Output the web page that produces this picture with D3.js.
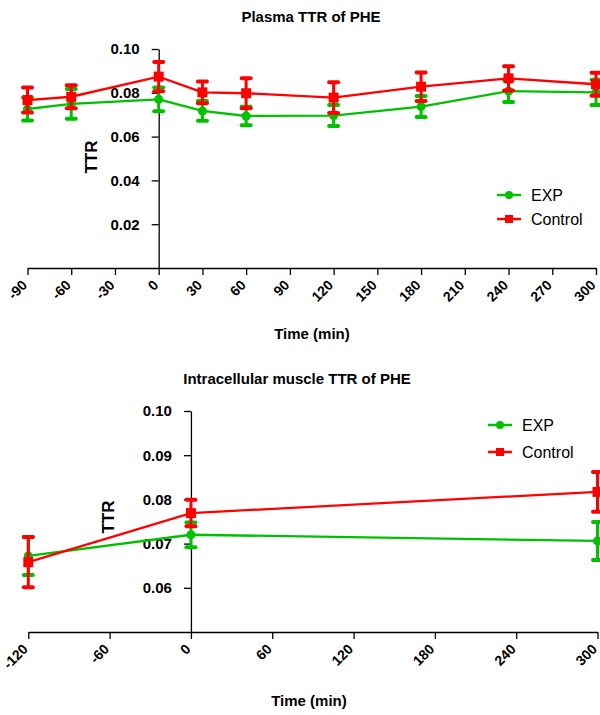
<!DOCTYPE html>
<html>
<head>
<meta charset="utf-8">
<script src="https://cdn.jsdelivr.net/npm/d3@7"></script>
<style>
  body { margin: 0; background: #fff; }
  svg { display: block; font-family: "Liberation Sans", Arial, sans-serif; }
</style>
</head>
<body>
<div id="chart"></div>
<script>
// top panel: plasma
const plasmaTimes = [-90, -60, 0, 30, 60, 120, 180, 240, 300];
const plasmaExp = [0.0726, 0.0749, 0.0770, 0.0717, 0.0694, 0.0696, 0.0737, 0.0808, 0.0802];
const plasmaExpErr = [0.0053, 0.0068, 0.0054, 0.0045, 0.0042, 0.0048, 0.0048, 0.0050, 0.0058];
const plasmaCtl = [0.0767, 0.0782, 0.0874, 0.0802, 0.0798, 0.0778, 0.0828, 0.0866, 0.0839];
const plasmaCtlErr = [0.0057, 0.0053, 0.0067, 0.0050, 0.0068, 0.0070, 0.0065, 0.0055, 0.0053];
const plasmaXTicks = [-90, -60, -30, 0, 30, 60, 90, 120, 150, 180, 210, 240, 270, 300];
const plasmaYTicks = [0.02, 0.04, 0.06, 0.08, 0.10];

// bottom panel: intracellular muscle
const muscleTimes = [-120, 0, 300];
const muscleExp = [0.0672, 0.0720, 0.0706];
const muscleExpErr = [0.0043, 0.0028, 0.0043];
const muscleCtl = [0.0658, 0.0769, 0.0817];
const muscleCtlErr = [0.0057, 0.0030, 0.0045];
const muscleXTicks = [-120, -60, 0, 60, 120, 180, 240, 300];
const muscleYTicks = [0.06, 0.07, 0.08, 0.09, 0.10];

const seriesNames = ["EXP", "Control"];

const width = 600, height = 715;
const green = "#00c000", red = "#ff0000";

let svg = d3.select("#chart").append("svg")
    .attr("width", width)
    .attr("height", height);

let drawPanel = function (cfg) {
    let x = d3.scaleLinear().domain(cfg.xDomain).range(cfg.xRange);
    let y = d3.scaleLinear().domain(cfg.yDomain).range(cfg.yRange);
    let g = svg.append("g");

    //title
    g.append("text")
        .attr("x", cfg.titleX).attr("y", cfg.titleY)
        .attr("text-anchor", "middle")
        .attr("font-size", 15).attr("font-weight", "bold")
        .text(cfg.title);

    //x axis along the bottom, plain hyphen for negatives
    let xAxis = g.append("g")
        .attr("transform", `translate(0,${cfg.yRange[0]})`)
        .call(d3.axisBottom(x).tickValues(cfg.xTicks).tickSize(7).tickSizeOuter(0)
            .tickFormat(d => String(d)));
    xAxis.select(".domain").attr("stroke", "#000").attr("stroke-width", 1.3);
    xAxis.selectAll(".tick line").attr("stroke", "#000").attr("stroke-width", 1.3);
    xAxis.selectAll(".tick text")
        .attr("font-size", 14).attr("font-weight", "bold").attr("fill", "#000")
        .attr("font-family", "Liberation Sans, Arial, sans-serif")
        .attr("text-anchor", "end")
        .attr("dy", 0)
        .attr("y", 0)
        .attr("transform", "translate(0,18) rotate(-45)");

    //y axis through x = 0
    let yAxis = g.append("g")
        .attr("transform", `translate(${x(0)},0)`)
        .call(d3.axisLeft(y).tickValues(cfg.yTicks).tickSize(7).tickPadding(12)
            .tickFormat(d3.format(".2f")).tickSizeOuter(0));
    yAxis.select(".domain").attr("stroke", "#000").attr("stroke-width", 1.3);
    yAxis.selectAll(".tick line").attr("stroke", "#000").attr("stroke-width", 1.3);
    yAxis.selectAll(".tick text")
        .attr("font-size", 15).attr("font-weight", "bold").attr("fill", "#000")
        .attr("font-family", "Liberation Sans, Arial, sans-serif");

    //axis titles
    g.append("text")
        .attr("x", cfg.xTitleX).attr("y", cfg.xTitleY)
        .attr("text-anchor", "middle")
        .attr("font-size", 15).attr("font-weight", "bold")
        .text("Time (min)");
    g.append("text")
        .attr("transform", `translate(${cfg.yTitleX},${cfg.yTitleY}) rotate(-90)`)
        .attr("text-anchor", "middle")
        .attr("font-size", 17).attr("font-weight", "bold")
        .text("TTR");

    //series: green first, red on top
    let series = [
        {vals: cfg.exp, err: cfg.expErr, color: green, shape: "circle"},
        {vals: cfg.ctl, err: cfg.ctlErr, color: red, shape: "square"}
    ];
    let line = d3.line().x(d => x(d.t)).y(d => y(d.v));

    series.forEach(function (s) {
        let pts = cfg.times.map((t, i) => ({t: t, v: s.vals[i], e: s.err[i]}));
        let sg = g.append("g");

        sg.append("path")
            .datum(pts)
            .attr("fill", "none")
            .attr("stroke", s.color)
            .attr("stroke-width", 2.3)
            .attr("d", line);

        //error bars
        let eb = sg.selectAll(".err").data(pts).join("g");
        eb.append("line")
            .attr("x1", d => x(d.t)).attr("x2", d => x(d.t))
            .attr("y1", d => y(d.v - d.e)).attr("y2", d => y(d.v + d.e))
            .attr("stroke", s.color).attr("stroke-width", 3);
        [-1, 1].forEach(function (sign) {
            eb.append("line")
                .attr("x1", d => x(d.t) - 4.5).attr("x2", d => x(d.t) + 4.5)
                .attr("y1", d => y(d.v + sign * d.e)).attr("y2", d => y(d.v + sign * d.e))
                .attr("stroke", s.color).attr("stroke-width", 4)
                .attr("stroke-linecap", "round");
        });

        //markers
        if (s.shape == "circle") {
            sg.selectAll(".mk").data(pts).join("circle")
                .attr("cx", d => x(d.t)).attr("cy", d => y(d.v))
                .attr("r", 4.5).attr("fill", s.color);
        } else {
            sg.selectAll(".mk").data(pts).join("rect")
                .attr("x", d => x(d.t) - 5).attr("y", d => y(d.v) - 5)
                .attr("width", 10).attr("height", 10).attr("fill", s.color);
        }
    });

    //legend
    series.forEach(function (s, i) {
        let ly = cfg.legendY + i * cfg.legendGap;
        let lg = g.append("g");
        lg.append("line")
            .attr("x1", cfg.legendX).attr("x2", cfg.legendX + 24)
            .attr("y1", ly).attr("y2", ly)
            .attr("stroke", s.color).attr("stroke-width", 2.5);
        if (s.shape == "circle") {
            lg.append("circle").attr("cx", cfg.legendX + 12).attr("cy", ly)
                .attr("r", 4).attr("fill", s.color);
        } else {
            lg.append("rect").attr("x", cfg.legendX + 8).attr("y", ly - 4)
                .attr("width", 8).attr("height", 8).attr("fill", s.color);
        }
        lg.append("text")
            .attr("x", cfg.legendX + 34).attr("y", ly + 5.5)
            .attr("font-size", 16)
            .text(seriesNames[i]);
    });
};

drawPanel({
    title: "Plasma TTR of PHE", titleX: 311, titleY: 22,
    xDomain: [-90, 300], xRange: [27.5, 596],
    yDomain: [0, 0.1], yRange: [268, 49],
    xTicks: plasmaXTicks, yTicks: plasmaYTicks,
    times: plasmaTimes,
    exp: plasmaExp, expErr: plasmaExpErr,
    ctl: plasmaCtl, ctlErr: plasmaCtlErr,
    xTitleX: 312, xTitleY: 339,
    yTitleX: 97, yTitleY: 157,
    legendX: 497, legendY: 195, legendGap: 24
});

drawPanel({
    title: "Intracellular muscle TTR of PHE", titleX: 297, titleY: 384,
    xDomain: [-120, 300], xRange: [28.3, 597.5],
    yDomain: [0.05, 0.1], yRange: [632, 411],
    xTicks: muscleXTicks, yTicks: muscleYTicks,
    times: muscleTimes,
    exp: muscleExp, expErr: muscleExpErr,
    ctl: muscleCtl, ctlErr: muscleCtlErr,
    xTitleX: 309, xTitleY: 706,
    yTitleX: 114, yTitleY: 517,
    legendX: 488, legendY: 425, legendGap: 27
});
</script>
</body>
</html>
